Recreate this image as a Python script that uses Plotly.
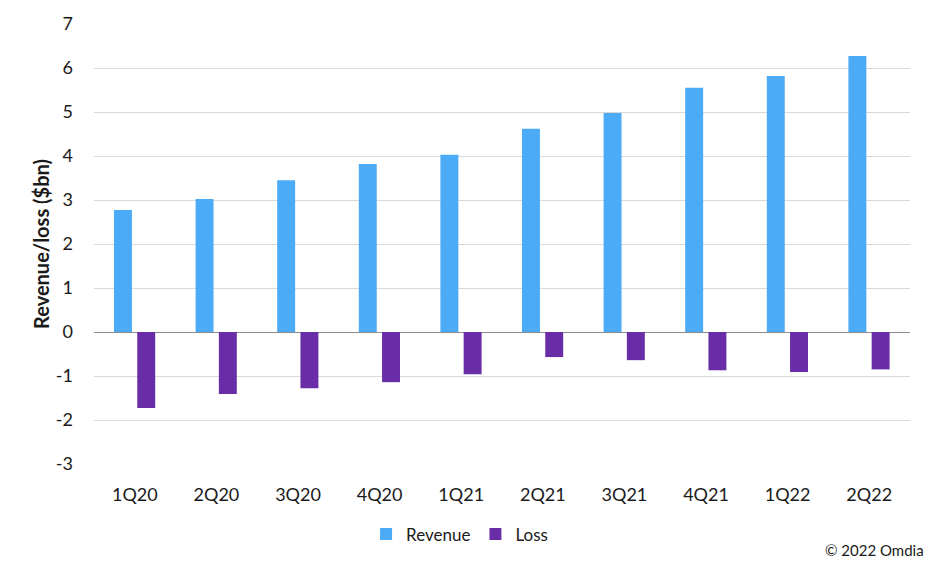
import plotly.graph_objects as go

quarters = ["1Q20", "2Q20", "3Q20", "4Q20", "1Q21", "2Q21", "3Q21", "4Q21", "1Q22", "2Q22"]
revenue = [2.77, 3.02, 3.45, 3.82, 4.03, 4.62, 4.98, 5.55, 5.82, 6.27]
loss = [-1.73, -1.41, -1.28, -1.14, -0.96, -0.57, -0.64, -0.87, -0.91, -0.85]
y_ticks = [-3, -2, -1, 0, 1, 2, 3, 4, 5, 6, 7]
y_tick_labels = [str(v) for v in y_ticks]

FONT = "Lato, 'Open Sans', sans-serif"

fig = go.Figure()
fig.add_trace(go.Bar(x=quarters, y=revenue, name="Revenue",
                     marker=dict(color="#4BABF7", line=dict(width=0)),
                     width=0.22, offset=-0.255))
fig.add_trace(go.Bar(x=quarters, y=loss, name="Loss",
                     marker=dict(color="#6A2DA8", line=dict(width=0)),
                     width=0.22, offset=0.03))

fig.update_layout(
    width=934, height=567,
    margin=dict(l=94, r=24, t=22, b=103),
    paper_bgcolor="white", plot_bgcolor="white",
    font=dict(family=FONT, size=18, color="#1a1a1a"),
    barmode="group",
    showlegend=True,
    legend=dict(orientation="h", x=0.448, xanchor="center", y=-0.16, yanchor="middle",
                font=dict(size=17), itemwidth=30, traceorder="normal"),
    xaxis=dict(showgrid=False, showline=False, ticks="", ticklabelstandoff=18,
               tickfont=dict(size=18)),
    yaxis=dict(range=[-3, 7], tickvals=y_ticks, ticktext=y_tick_labels,
               showgrid=True, gridcolor="#D9D9D9",
               gridwidth=1, zeroline=True, zerolinecolor="#8C8C8C", zerolinewidth=1,
               showline=False, ticks="", ticklabelstandoff=20,
               tickfont=dict(size=18),
               title=dict(text="<b>Revenue/loss ($bn)</b>", font=dict(size=20), standoff=0)),
    annotations=[dict(text="© 2022 Omdia", xref="paper", yref="paper", x=1.019, y=-0.195,
                      xanchor="right", yanchor="middle", showarrow=False,
                      font=dict(size=15, family=FONT, color="#1a1a1a"))],
)

fig.write_html("out.html", post_script="document.body.style.margin='0';",
               config={"displayModeBar": False})
